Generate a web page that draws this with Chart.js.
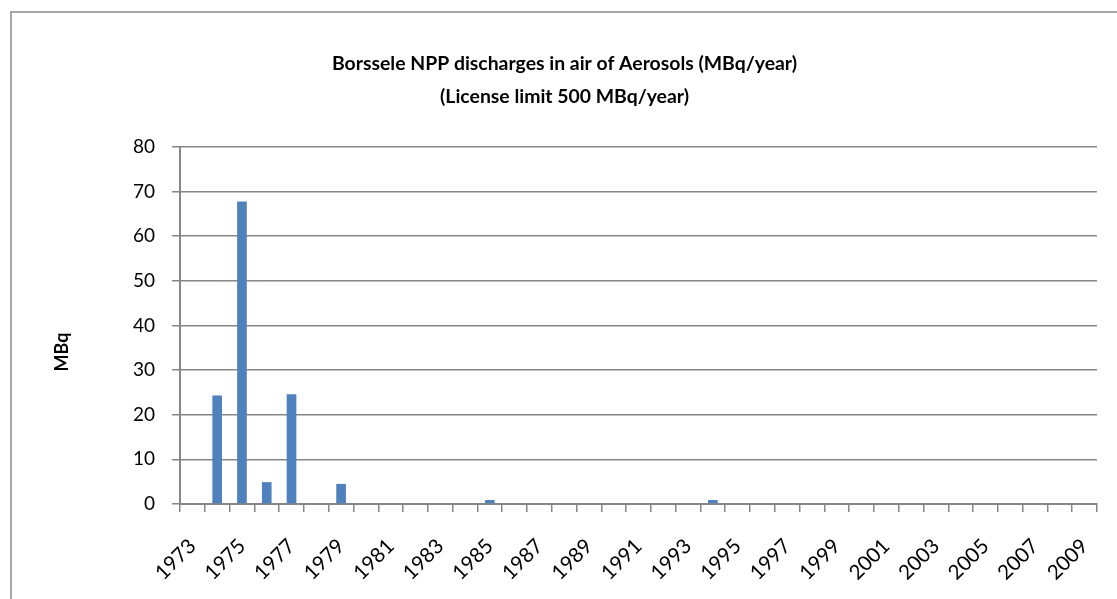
<!DOCTYPE html>
<html>
<head>
<meta charset="utf-8">
<script src="https://cdn.jsdelivr.net/npm/chart.js@4/dist/chart.umd.min.js"></script>
<style>
  html, body { margin: 0; padding: 0; background: #fff; overflow: hidden; }
  #chart { position: absolute; left: 0; top: 0; }
  .frame { position: absolute; left: 10px; top: 11px; width: 2000px; height: 2000px;
           border-left: 2px solid #a6a6a6; border-top: 2px solid #a6a6a6; pointer-events: none; }
</style>
</head>
<body>
<canvas id="chart" width="1117" height="599"></canvas>
<div class="frame"></div>
<script>
// discharges per year, MBq
const YEARS = ['1973', '1974', '1975', '1976', '1977', '1978', '1979', '1980', '1981', '1982',
  '1983', '1984', '1985', '1986', '1987', '1988', '1989', '1990', '1991', '1992',
  '1993', '1994', '1995', '1996', '1997', '1998', '1999', '2000', '2001', '2002',
  '2003', '2004', '2005', '2006', '2007', '2008', '2009'];
const AEROSOLS = [0, 24.3, 67.8, 4.9, 24.6, 0, 4.5, 0, 0, 0,
  0, 0, 0.9, 0, 0, 0, 0, 0, 0, 0,
  0, 0.9, 0, 0, 0, 0, 0, 0, 0, 0,
  0, 0, 0, 0, 0, 0, 0];
const TITLE_LINES = ['Borssele NPP discharges in air of Aerosols (MBq/year)', '(License limit 500 MBq/year)'];
const Y_TITLE = 'MBq';
const Y_MIN = 0, Y_MAX = 80, Y_STEP = 10;

const axisGray = '#868686';

// y axis title sits lower than the plot centre in the original, so draw it ourselves
const yTitlePlugin = {
  id: 'yTitle',
  afterDraw(chart) {
    const ctx = chart.ctx;
    ctx.save();
    ctx.translate(62, 352);
    ctx.rotate(-Math.PI / 2);
    ctx.font = 'bold 18px Lato';
    ctx.fillStyle = '#000';
    ctx.textAlign = 'center';
    ctx.textBaseline = 'middle';
    ctx.fillText(Y_TITLE, 0, 0);
    ctx.restore();
  }
};

new Chart(document.getElementById('chart'), {
  type: 'bar',
  data: {
    labels: YEARS,
    datasets: [{
      data: AEROSOLS,
      backgroundColor: '#4f81bd',
      borderWidth: 0,
      categoryPercentage: 1,
      barPercentage: 0.39,
    }]
  },
  options: {
    responsive: false,
    animation: false,
    layout: { padding: { left: 32, right: 20, top: 0, bottom: 0 } },
    plugins: {
      legend: { display: false },
      tooltip: { enabled: false },
      title: {
        display: true,
        text: TITLE_LINES,
        color: '#000',
        font: { family: 'Lato', size: 19.4, weight: 'bold', lineHeight: 1.7 },
        padding: { top: 47, bottom: 34 },
      }
    },
    scales: {
      x: {
        grid: { offset: true, drawOnChartArea: false, color: axisGray, lineWidth: 1.5, tickLength: 8 },
        border: { color: axisGray, width: 2 },
        ticks: {
          autoSkip: false, maxRotation: 45, minRotation: 45, padding: 22,
          color: '#000', font: { family: 'Lato', size: 20.5 },
          callback: (v, i) => i % 2 === 0 ? YEARS[i] : '',
        },
        afterFit: s => { s.height = 95; s.paddingLeft = 0; s.paddingRight = 0; },
      },
      y: {
        min: Y_MIN, max: Y_MAX,
        grid: { color: axisGray, lineWidth: 1.5, tickLength: 8 },
        border: { color: axisGray, width: 2 },
        ticks: { stepSize: Y_STEP, padding: 17, color: '#000', font: { family: 'Lato', size: 19 } },
        afterFit: s => { s.width = 148; },
      }
    }
  },
  plugins: [yTitlePlugin]
});
</script>
</body>
</html>
